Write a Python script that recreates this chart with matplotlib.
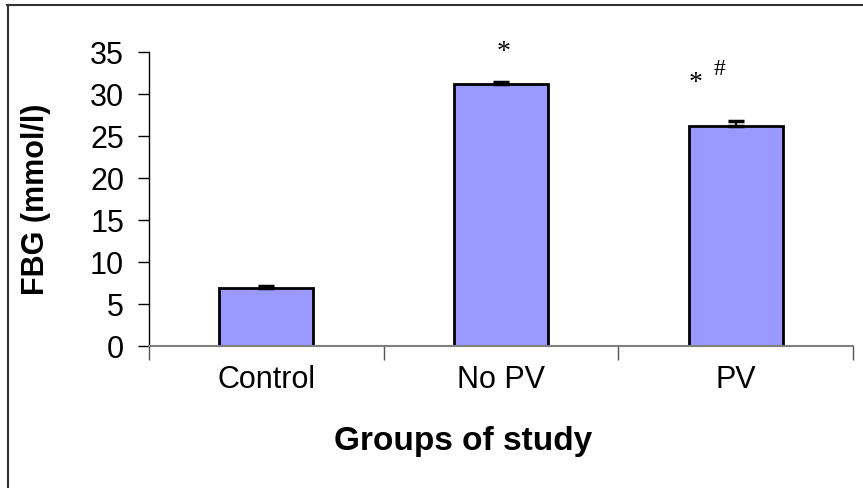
import matplotlib.pyplot as plt
from matplotlib.lines import Line2D

groups = ['Control', 'No PV', 'PV']
fbg = [6.9, 31.2, 26.2]
fbg_err = [0.25, 0.2, 0.6]
marks = ['', '*', '*']
hashes = ['', '', '#']

plt.rcParams['font.family'] = ['Liberation Sans', 'DejaVu Sans']

fig = plt.figure(figsize=(8.63, 4.88), dpi=100)
ax = fig.add_axes([149 / 863, 1 - 346 / 488, 704 / 863, 294 / 488])

x = range(len(groups))
ax.bar(x, fbg, width=0.4, color='#9999ff', edgecolor='black', linewidth=2,
       yerr=[[0] * len(fbg), fbg_err],
       error_kw=dict(ecolor='black', elinewidth=1.5, capsize=6, capthick=2.5))

for i in x:
    if marks[i]:
        top = fbg[i] + fbg_err[i]
        if hashes[i]:
            ax.text(i - 0.17, top + 4.5, marks[i], ha='center', va='center',
                    fontsize=20, family='Liberation Serif')
            ax.text(i - 0.07, top + 6.1, hashes[i], ha='center', va='center',
                    fontsize=17, family='Liberation Serif')
        else:
            ax.text(i + 0.01, top + 3.5, marks[i], ha='center', va='center',
                    fontsize=20, family='Liberation Serif')

ax.set_xlim(-0.5, 2.5)
ax.set_ylim(0, 35)
ax.set_yticks(range(0, 36, 5))
ax.set_xticks([-0.5, 0.5, 1.5, 2.5], minor=False)
ax.set_xticklabels([])
ax.set_xticks(list(x), minor=True)
ax.set_xticklabels(groups, minor=True)
ax.tick_params(axis='x', which='minor', length=0, pad=14, labelsize=22)
ax.tick_params(axis='x', which='major', length=10, width=1, color='#555555')
ax.tick_params(axis='y', length=8, width=1, pad=10, labelsize=22)

ax.spines['top'].set_visible(False)
ax.spines['right'].set_visible(False)
ax.spines['bottom'].set_color('#808080')
ax.spines['bottom'].set_linewidth(1.5)
ax.spines['left'].set_linewidth(1)

ax.set_ylabel('FBG (mmol/l)', fontsize=22, fontweight='bold', labelpad=28)
ax.set_xlabel('Groups of study', fontsize=24, fontweight='bold')
ax.xaxis.label.set_va('center')
ax.xaxis.set_label_coords((463 - 149) / 704, (346 - 442) / 294)

# outer frame, only left and top visible
fig.add_artist(Line2D([7.5 / 863, 7.5 / 863], [0, 1 - 5 / 488],
                      transform=fig.transFigure, color='#333333', linewidth=1.5))
fig.add_artist(Line2D([7 / 863, 1], [1 - 5 / 488, 1 - 5 / 488],
                      transform=fig.transFigure, color='#333333', linewidth=1.5))

fig.savefig('out.png', dpi=100)
